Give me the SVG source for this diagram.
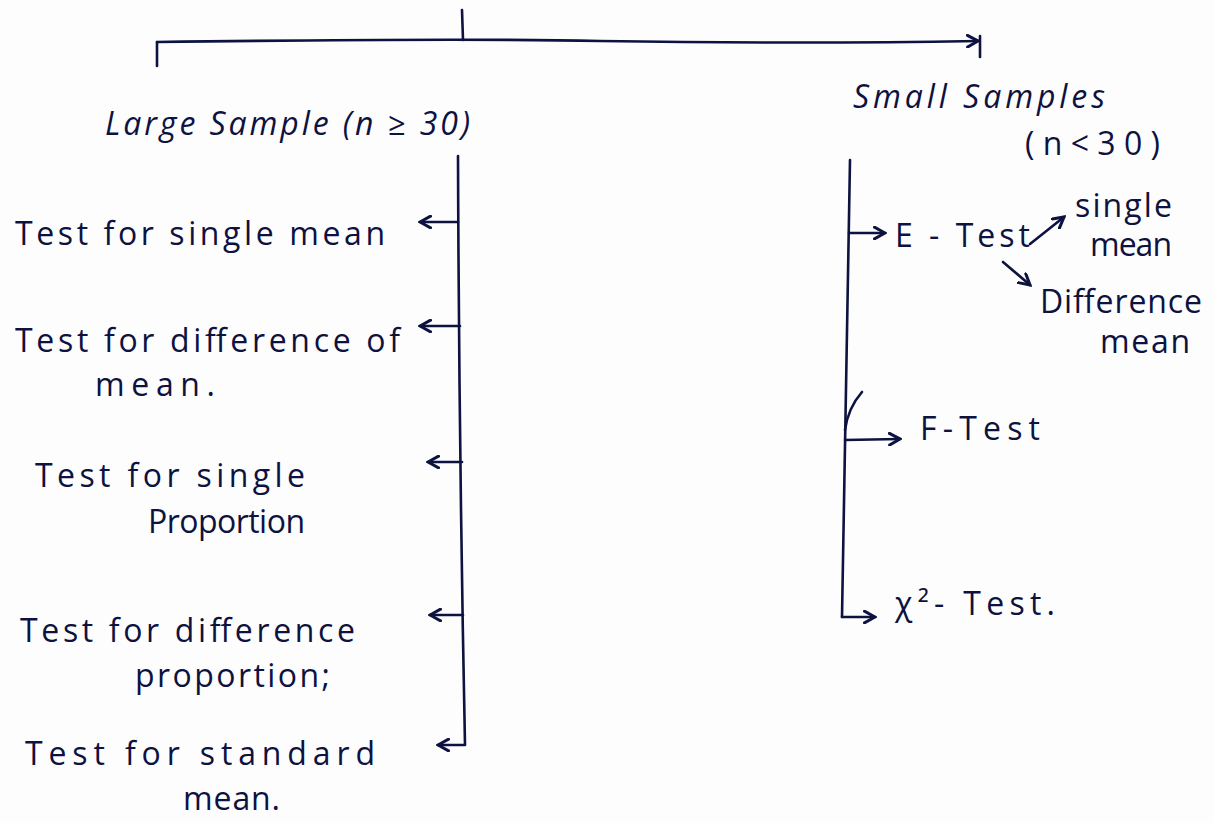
<svg xmlns="http://www.w3.org/2000/svg" width="1214" height="823" viewBox="0 0 1214 823">
<defs>
<marker id="ah" viewBox="0 0 12 12" refX="10" refY="6" markerWidth="14" markerHeight="14" markerUnits="userSpaceOnUse" orient="auto">
<path d="M1,1 L10,6 L1,11" fill="none" stroke="#0d1240" stroke-width="2.6" stroke-linecap="round"/>
</marker>
<style>
.ink{stroke:#0d1240;stroke-width:2.6;fill:none;stroke-linecap:round;stroke-linejoin:round}
.t{font-family:"Open Sans","DejaVu Sans",sans-serif;fill:#0d1240;font-size:32px}
</style>
</defs>
<rect width="1214" height="823" fill="#fdfdfd"/>
<g id="connectors">
<path class="ink" d="M462,10 L463,40" stroke-width="3.2"/>
<path class="ink" d="M157,42 Q460,38 600,41 Q800,44 978,41" marker-end="url(#ah)"/>
<path class="ink" d="M157,42 L157,66"/>
<path class="ink" d="M980,36 L980,57"/>
<path class="ink" d="M458,156 Q459,450 465,745 L438,745" marker-end="url(#ah)"/>
<path class="ink" d="M458,222 L420,222" marker-end="url(#ah)"/>
<path class="ink" d="M460,326 L420,326" marker-end="url(#ah)"/>
<path class="ink" d="M462,462 L428,462" marker-end="url(#ah)"/>
<path class="ink" d="M463,615 L430,615" marker-end="url(#ah)"/>
<path class="ink" d="M850,160 Q846,400 842,617"/>
<path class="ink" d="M849,233 L885,233" marker-end="url(#ah)"/>
<path class="ink" d="M1030,244 L1064,217" marker-end="url(#ah)"/>
<path class="ink" d="M1003,262 L1030,285" marker-end="url(#ah)"/>
<path class="ink" d="M845,440 L900,439" marker-end="url(#ah)"/>
<path class="ink" d="M845,430 Q848,408 862,392" stroke-width="1.6"/>
<path class="ink" d="M842,617 L875,617" marker-end="url(#ah)"/>
</g>
<g id="large-sample"><text class="t" x="105" y="135" textLength="365" lengthAdjust="spacing" font-style="italic">Large Sample (n ≥ 30)</text></g>
<g id="small-samples"><text class="t" x="853" y="108" textLength="252" lengthAdjust="spacing" font-style="italic">Small Samples</text><text class="t" x="1025" y="155" textLength="135" lengthAdjust="spacing">(n&lt;30)</text></g>
<g id="single-mean"><text class="t" x="15" y="245" textLength="370" lengthAdjust="spacing">Test for single mean</text></g>
<g id="difference-mean"><text class="t" x="15" y="352" textLength="385" lengthAdjust="spacing">Test for difference of</text><text class="t" x="95" y="396" textLength="120" lengthAdjust="spacing">mean.</text></g>
<g id="single-proportion"><text class="t" x="35" y="487" textLength="270" lengthAdjust="spacing">Test for single</text><text class="t" x="148" y="533" textLength="157" lengthAdjust="spacing">Proportion</text></g>
<g id="difference-proportion"><text class="t" x="20" y="642" textLength="335" lengthAdjust="spacing">Test for difference</text><text class="t" x="135" y="687" textLength="195" lengthAdjust="spacing">proportion;</text></g>
<g id="standard-mean"><text class="t" x="25" y="765" textLength="350" lengthAdjust="spacing">Test for standard</text><text class="t" x="183" y="810" textLength="97" lengthAdjust="spacing" font-size="26">mean.</text></g>
<g id="e-test"><text class="t" x="895" y="247" textLength="135" lengthAdjust="spacing">E - Test</text></g>
<g id="e-single-mean"><text class="t" x="1075" y="217" textLength="97" lengthAdjust="spacing" font-size="28">single</text><text class="t" x="1090" y="256" textLength="82" lengthAdjust="spacing" font-size="28">mean</text></g>
<g id="e-difference-mean"><text class="t" x="1040" y="313" textLength="162" lengthAdjust="spacing" font-size="28">Difference</text><text class="t" x="1100" y="353" textLength="90" lengthAdjust="spacing" font-size="28">mean</text></g>
<g id="f-test"><text class="t" x="920" y="440" textLength="120" lengthAdjust="spacing">F-Test</text></g>
<g id="chi-test"><text class="t" x="895" y="615" textLength="160" lengthAdjust="spacing">χ²- Test.</text></g>
</svg>
